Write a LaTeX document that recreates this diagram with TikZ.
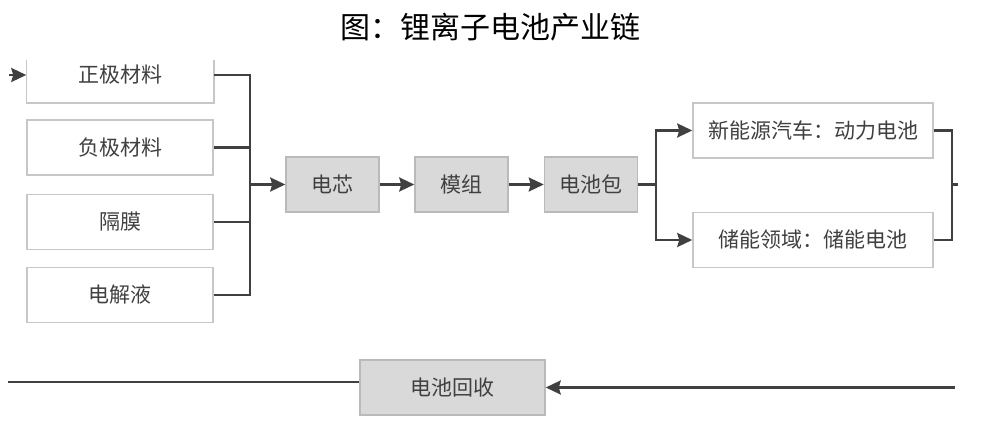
\documentclass[tikz,border=0pt]{standalone}
\usepackage{fontspec}
\newfontfamily\cjk{Noto Sans CJK SC}
\usetikzlibrary{arrows.meta}

\begin{document}
\begin{tikzpicture}[x=1pt,y=-1pt]

\def\matx{120}
\def\busl{250}
\def\busm{656}
\def\busr{952}
\def\chainy{184.5}
\def\backy{387.5}

% Colours
\colorlet{linecolor}{black!75}
\colorlet{framecolor}{black!22}
\colorlet{cellcolor}{black!15}
\colorlet{textcolor}{black!75}

% Styles
\tikzstyle{flow line}=[line width=2.4pt, draw=linecolor]
\tikzstyle{flow arrow}=[flow line, -{Stealth[length=15pt,width=14pt,inset=2pt]}]
\tikzstyle{white box}=[draw=framecolor, line width=1.5pt, fill=white, minimum height=55pt, inner sep=0pt, text=textcolor, font=\cjk\fontsize{21}{21}\selectfont]
\tikzstyle{grey box}=[white box, fill=cellcolor, draw=black!27, minimum width=93pt]

\useasboundingbox (0,0) rectangle (986,427);

% Title
\node[font=\cjk\fontsize{30}{30}\selectfont] (title) at (490,27) {图：锂离子电池产业链};

% Materials
\node[white box, minimum width=186pt, draw=none] (zj) at (\matx,75) {正极材料};
\draw[draw=framecolor, line width=1.5pt] ([yshift=-13pt]zj.north west) |- (zj.south east) -- ([yshift=-13pt]zj.north east);
\node[white box, minimum width=186pt] (fj) at (\matx,147.5) {负极材料};
\node[white box, minimum width=186pt] (gm) at (\matx,222) {隔膜};
\node[white box, minimum width=186pt] (dj) at (\matx,295) {电解液};

\coordinate (in) at (9,75);
\draw[flow arrow] (in) -- (zj.west);

\draw[flow line] (zj.east) -- (\busl,75) -- (\busl,295) -- (dj.east);
\draw[flow line] (fj.east) -- (fj.east -| {(\busl,0)});
\draw[flow line] (gm.east) -- (gm.east -| {(\busl,0)});

% Chain
\node[grey box] (dx) at (332.5,\chainy) {电芯};
\node[grey box] (mz) at (461.5,\chainy) {模组};
\node[grey box] (db) at (591,\chainy) {电池包};

\draw[flow arrow] (dx.west -| {(\busl,0)}) -- (dx.west);
\draw[flow arrow] (dx) -- (mz);
\draw[flow arrow] (mz) -- (db);

% Uses
\node[white box, minimum width=240pt] (xny) at (813,130.5) {新能源汽车：动力电池};
\node[white box, minimum width=240pt] (cn) at (813,240) {储能领域：储能电池};

\draw[flow line] (db.east) -- (db.east -| {(\busm,0)});
\draw[flow arrow] (\busm,\chainy) |- (xny.west);
\draw[flow arrow] (\busm,\chainy) |- (cn.west);

\draw[flow line] (xny.east) -| (\busr,\chainy) |- (cn.east);
\coordinate (out) at (958,\chainy);
\draw[flow line] (\busr,\chainy) -- (out);

% Recycling
\node[grey box, minimum width=185pt] (hs) at (452.5,\backy) {电池回收};

\coordinate (back) at (955,\backy);
\draw[flow arrow] (back) -- (hs.east);
\coordinate (left) at (8,382);
\draw[flow line] (left) -- (left -| hs.west);

\end{tikzpicture}
\end{document}
